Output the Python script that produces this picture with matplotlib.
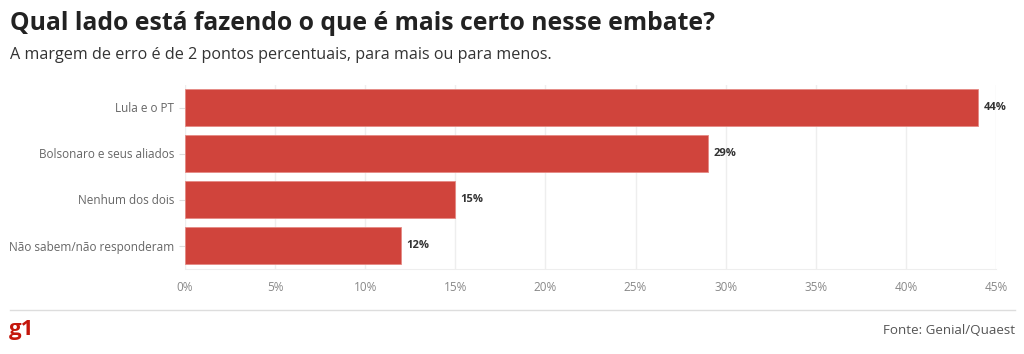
import matplotlib.pyplot as plt
from matplotlib.lines import Line2D

# Survey data
categories = ['Lula e o PT', 'Bolsonaro e seus aliados', 'Nenhum dos dois', 'Não sabem/não responderam']
values = [44, 29, 15, 12]
xticks = [0, 5, 10, 15, 20, 25, 30, 35, 40, 45]

plt.rcParams['font.family'] = ['Open Sans', 'DejaVu Sans']

W, H = 1024, 354
fig = plt.figure(figsize=(W / 100, H / 100), dpi=100)

# axes placed in pixel coordinates
left, right, top, bottom = 185, 996, 84.5, 268.5
ax = fig.add_axes([left / W, 1 - bottom / H, (right - left) / W, (bottom - top) / H])

y = list(range(len(categories)))
ax.barh(y, values, height=0.8, color='#d0443c', edgecolor='#e58a84', linewidth=0.6, zorder=3)
for yi, v in zip(y, values):
    ax.text(v + 0.3, yi, f'{v}%', va='center', ha='left', fontsize=8,
            fontweight='bold', color='#333333')

ax.set_xlim(0, 45)
ax.set_ylim(len(categories) - 0.5, -0.5)
ax.set_yticks(y)
ax.set_yticklabels(categories, fontsize=8.5, color='#666666')
ax.set_xticks(xticks)
ax.set_xticklabels([f'{t}%' for t in xticks], fontsize=8.5, color='#888888')
ax.tick_params(axis='y', length=4, color='#dddddd', pad=4)
ax.tick_params(axis='x', length=0, pad=9)
ax.grid(axis='x', color='#eeeeee', linewidth=1, zorder=0)
for s in ['top', 'right', 'left']:
    ax.spines[s].set_visible(False)
ax.spines['bottom'].set_color('#eeeeee')

# header
fig.text(10 / W, 1 - 23 / H, 'Qual lado está fazendo o que é mais certo nesse embate?',
         fontsize=17.8, fontweight='bold', color='#222222', va='center', ha='left')
fig.text(10 / W, 1 - 55 / H, 'A margem de erro é de 2 pontos percentuais, para mais ou para menos.',
         fontsize=11.6, color='#333333', va='center', ha='left')

# footer
fig.add_artist(Line2D([10 / W, 1015 / W], [1 - 310 / H, 1 - 310 / H], color='#dddddd', linewidth=1))
fig.text(9 / W, 1 - 329 / H, 'g1', fontsize=16, fontweight='bold', color='#c4170c', va='center', ha='left')
fig.text(1015 / W, 1 - 331 / H, 'Fonte: Genial/Quaest', fontsize=9.6, color='#555555', va='center', ha='right')

fig.savefig('out.png', dpi=100)
